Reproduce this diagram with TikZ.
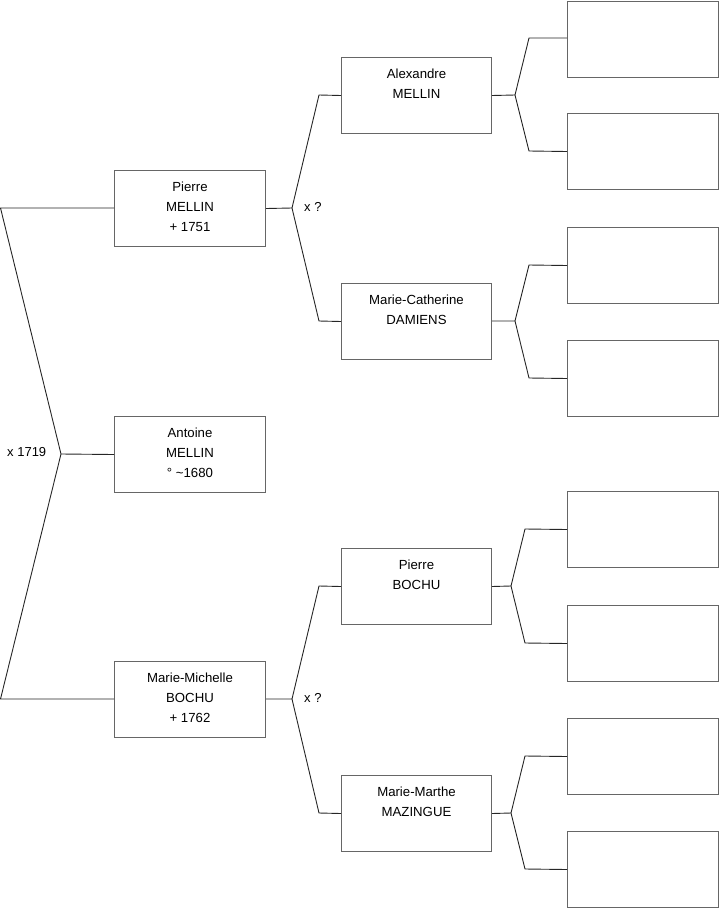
\documentclass[tikz,border=0pt]{standalone}
\usepackage{fontspec}
\setmainfont{Liberation Sans}
\begin{document}
\begin{tikzpicture}[x=1pt,y=-1pt,
  person/.style={draw=black!60,line width=1pt,minimum width=151pt,minimum height=76pt,
    inner sep=0pt,align=center,font=\fontsize{13.2}{20}\selectfont,anchor=north west},
  conn/.style={draw=black!85,line width=0.9pt},
  lbl/.style={font=\fontsize{13}{15}\selectfont,inner sep=0pt}]
\useasboundingbox (0,0) rectangle (719,908);
% generation 1
\node[person] (p)  at (114,170) {Pierre\\MELLIN\\+ 1751\\[-16pt]\mbox{}};
\node[person] (an) at (114,416) {Antoine\\MELLIN\\° \textasciitilde1680\\[-16pt]\mbox{}};
\node[person] (mm) at (114,661) {Marie-Michelle\\BOCHU\\+ 1762\\[-16pt]\mbox{}};
% generation 2
\node[person,minimum width=150pt] (al) at (341,57)  {Alexandre\\MELLIN\\[4pt]\mbox{}};
\node[person,minimum width=150pt] (mc) at (341,283) {Marie-Catherine\\DAMIENS\\[4pt]\mbox{}};
\node[person,minimum width=150pt] (pb) at (341,548) {Pierre\\BOCHU\\[4pt]\mbox{}};
\node[person,minimum width=150pt] (ma) at (341,775) {Marie-Marthe\\MAZINGUE\\[4pt]\mbox{}};
% generation 3 (empty)
\node[person] (e1) at (567,0.5) {};
\node[person] (e2) at (567,113) {};
\node[person] (e3) at (567,227) {};
\node[person] (e4) at (567,340) {};
\node[person] (e5) at (567,491) {};
\node[person] (e6) at (567,605) {};
\node[person] (e7) at (567,718) {};
\node[person] (e8) at (567,831) {};
% coordinates
\coordinate (l1) at (0.5,208);
\coordinate (l2) at (0.5,699);
\coordinate (lj) at (61,454);
\coordinate (pj) at (292,208);
\coordinate (pa) at (319,95);
\coordinate (pc) at (319,321);
\coordinate (mj) at (292,699);
\coordinate (mb) at (319,586);
\coordinate (mz) at (319,813);
\coordinate (aj) at (515,95);
\coordinate (a1) at (529,38);
\coordinate (a2) at (529,151);
\coordinate (cj) at (515,321);
\coordinate (c1) at (529,265);
\coordinate (c2) at (529,378);
\coordinate (bj) at (511,586);
\coordinate (b1) at (525,529);
\coordinate (b2) at (525,643);
\coordinate (zj) at (511,813);
\coordinate (z1) at (525,756);
\coordinate (z2) at (525,869);
% connectors
\draw[conn] (p.west |- l1) -- (l1) -- (lj) -- (l2) -- (mm.west |- l2);
\draw[conn] (lj) -- (an.west);
\draw[conn] (p.east) -- (pj) -- (pa) -- (al.west);
\draw[conn] (pj) -- (pc) -- (mc.west);
\draw[conn] (mm.east |- mj) -- (mj) -- (mb) -- (pb.west);
\draw[conn] (mj) -- (mz) -- (ma.west);
\draw[conn] (al.east) -- (aj) -- (a1) -- (e1.west |- a1);
\draw[conn] (aj) -- (a2) -- (e2.west);
\draw[conn] (mc.east |- cj) -- (cj) -- (c1) -- (e3.west);
\draw[conn] (cj) -- (c2) -- (e4.west);
\draw[conn] (pb.east) -- (bj) -- (b1) -- (e5.west);
\draw[conn] (bj) -- (b2) -- (e6.west);
\draw[conn] (ma.east) -- (zj) -- (z1) -- (e7.west);
\draw[conn] (zj) -- (z2) -- (e8.west);
% labels
\node[lbl,anchor=west] (x1) at (7,452) {x 1719};
\node[lbl,anchor=west] (x2) at (304,207) {x ?};
\node[lbl,anchor=west] (x3) at (304,698) {x ?};
\end{tikzpicture}
\end{document}
